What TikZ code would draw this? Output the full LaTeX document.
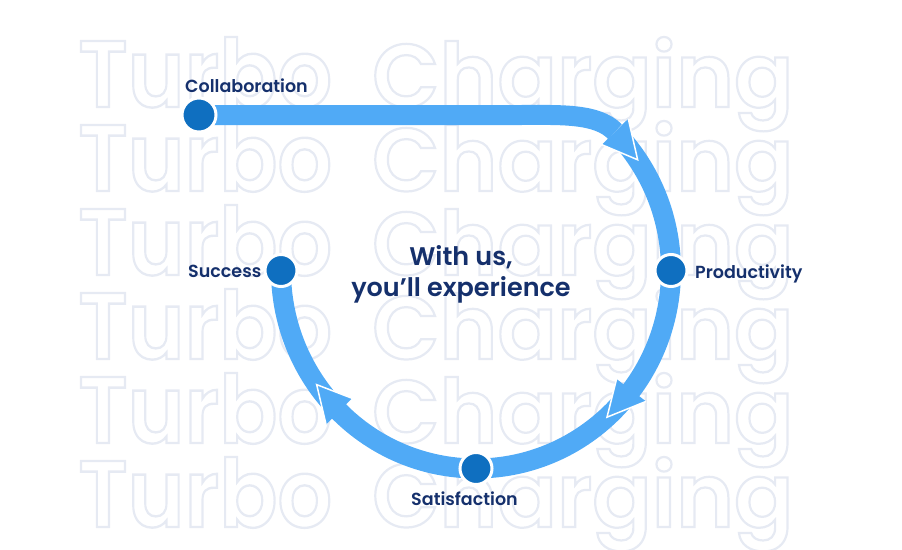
\documentclass[tikz,border=0pt]{standalone}
\usepackage{fontspec}
\setmainfont{Poppins}
\newfontfamily\lblfont{Poppins SemiBold}

\definecolor{bandblue}{HTML}{50AAF6}
\definecolor{dotblue}{HTML}{0F6FC0}
\definecolor{navy}{HTML}{15306C}
\definecolor{ghost}{HTML}{E6EAF3}

% outlined (stroked only) letters
\newcommand\outl[1]{\special{pdf:literal direct 1 Tr 0.25 w}#1\special{pdf:literal direct 0 Tr}}
\newcommand\turbo{\resizebox{254pt}{70pt}{\outl{Turbo}}}
\newcommand\charging{\resizebox{421pt}{70pt}{\outl{Charging}}}
% arrow head on the ring: base angle, tip angle
\newcommand\headat[2]{%
  \fill[bandblue] (#1:176.5 and 179.5) -- (#2:195 and 198) -- (#1:213.5 and 216.5) -- cycle;
  \draw[white, line width=1.5pt] (#1:176.5 and 179.5) -- (#2:195 and 198) -- (#1:213.5 and 216.5);}

\tikzset{
  band/.style={draw=bandblue, line width=20pt},
  dot/.style={circle, fill=dotblue, draw=white, line width=3pt, minimum size=32pt, inner sep=0pt},
  lbl/.style={text=navy, font=\lblfont\fontsize{17.5}{17.5}\selectfont, inner sep=0pt, anchor=base west},
  headline/.style={text=navy, font=\lblfont\fontsize{25.5}{25.5}\selectfont, inner sep=0pt, anchor=base},
  ghosttxt/.style={text=ghost, font=\lblfont, inner sep=0pt, anchor=base west},
}

\begin{document}
\begin{tikzpicture}[x=1pt, y=-1pt]
    \useasboundingbox (0,0) rectangle (902,549);
    % background words
    \foreach \y in {107,191,275,359,443,527} {
        \node[ghosttxt] (turbo-\y) at (78,\y) {\turbo};
        \node[ghosttxt] (charging-\y) at (372,\y) {\charging};
    }

    % ring
    \coordinate (collab-pt) at (199,115);
    \begin{scope}[shift={(476,270.5)}]
        \coordinate (h1) at (-44.5:195 and 198);
        \coordinate (prod-pt) at (0:195 and 198);
        \coordinate (sat-pt) at (90:195 and 198);
        \coordinate (succ-pt) at (180:195 and 198);
        \draw[band] (-42:195 and 198) arc (-42:180:195 and 198);
    \end{scope}
    \draw[band] (collab-pt) -- (520,115) .. controls (560,115) and (597,113) .. (h1);
    \begin{scope}[shift={(476,270.5)}]
        \headat{-44.5}{-34}
        \headat{37.2}{47.8}
        \headat{134.6}{144.8}
    \end{scope}

    % dots
    \node[dot, minimum size=34pt] (collab) at (collab-pt) {};
    \node[dot] (prod) at (prod-pt) {};
    \node[dot] (sat) at (sat-pt) {};
    \node[dot] (succ) at (succ-pt) {};

    % labels
    \node[lbl] (collab-lbl) at (185,92.5) {Collaboration};
    \node[lbl] (prod-lbl) at (695,278) {Productivity};
    \node[lbl] (succ-lbl) at (188,277) {Success};
    \node[lbl, anchor=base] (sat-lbl) at (464.5,505) {Satisfaction};
    \node[headline] (title-a) at (461,265) {With us,};
    \node[headline] (title-b) at (461,296.7) {you’ll experience};
\end{tikzpicture}
\end{document}
